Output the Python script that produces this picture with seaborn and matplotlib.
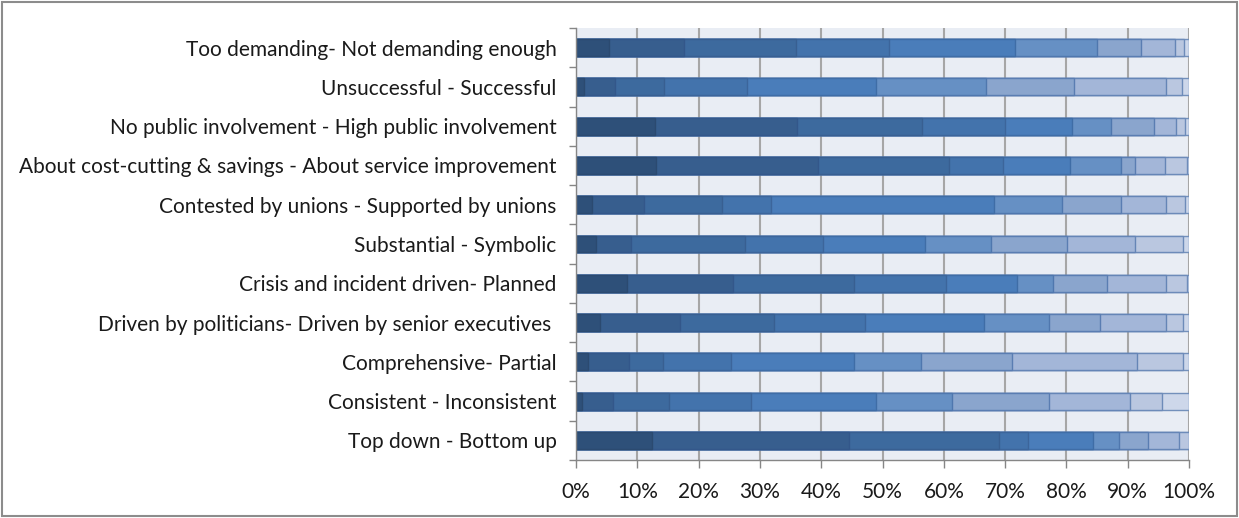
import numpy as np
import pandas as pd
import matplotlib
matplotlib.use('Agg')
import matplotlib.pyplot as plt
import seaborn as sns

# categorias (de cima para baixo)
categorias = [
    'Too demanding- Not demanding enough',
    'Unsuccessful - Successful',
    'No public involvement - High public involvement',
    'About cost-cutting & savings - About service improvement',
    'Contested by unions - Supported by unions',
    'Substantial - Symbolic',
    'Crisis and incident driven- Planned',
    'Driven by politicians- Driven by senior executives ',
    'Comprehensive- Partial',
    'Consistent - Inconsistent',
    'Top down - Bottom up',
]

# percentagem em cada ponto da escala (1 = extremo esquerdo ... 10 = extremo direito)
s1 = [5.4, 1.3, 12.8, 13.0, 2.6, 3.3, 8.3, 3.9, 2.0, 1.0, 12.3]
s2 = [12.2, 5.1, 23.3, 26.4, 8.4, 5.7, 17.3, 13.0, 6.7, 5.0, 32.2]
s3 = [18.3, 8.0, 20.4, 21.5, 12.8, 18.5, 19.8, 15.4, 5.5, 9.1, 24.5]
s4 = [15.2, 13.5, 13.5, 8.7, 8.0, 12.8, 14.9, 14.8, 11.0, 13.5, 4.8]
s5 = [20.5, 21.1, 10.9, 10.9, 36.3, 16.6, 11.7, 19.5, 20.2, 20.3, 10.5]
s6 = [13.3, 17.8, 6.3, 8.4, 11.2, 10.8, 5.8, 10.6, 10.8, 12.4, 4.2]
s7 = [7.3, 14.4, 7.0, 2.2, 9.6, 12.4, 8.8, 8.3, 14.9, 15.8, 4.8]
s8 = [5.5, 15.1, 3.7, 4.9, 7.4, 11.1, 9.7, 10.8, 20.4, 13.2, 5.1]
s9 = [1.5, 2.6, 1.4, 3.7, 3.0, 7.8, 3.4, 2.7, 7.5, 5.3, 1.6]
s10 = [0.8, 1.1, 0.7, 0.3, 0.7, 1.0, 0.3, 1.0, 1.0, 4.4, 0.0]

cores = ['#2E5079', '#375E8E', '#3D6A9E', '#4373AC', '#4A7DBA',
         '#6690C4', '#8AA5CD', '#A3B6D8', '#BAC7E0', '#CDD7EA']
bordas = ['#2B4A70', '#33578A', '#385F91', '#3C659B', '#3F6DA6',
          '#4F77AE', '#5A7DB2', '#6585B6', '#6D8BB9', '#7390BB']

niveis = [s1, s2, s3, s4, s5, s6, s7, s8, s9, s10]

# monta tabela e normaliza para 100%
df = pd.DataFrame(np.array(niveis).T, index=categorias,
                  columns=[f'n{i+1}' for i in range(10)])
df = df.div(df.sum(axis=1), axis=0)
acumulado = df.cumsum(axis=1)

sns.set_theme(style='white')
plt.rcParams['font.family'] = ['Lato', 'DejaVu Sans']

fig, ax = plt.subplots(figsize=(12.39, 5.18), dpi=100)
fig.subplots_adjust(left=0.465, right=0.9597, bottom=0.112, top=0.946)

ax.set_facecolor('#E9EDF4')
ax.set_axisbelow(True)
ax.xaxis.grid(True, color='#A6A6A6', linewidth=1.5)

#desenha do maior acumulado para o menor, assim cada camada cobre a anterior
for k in range(9, -1, -1):
    sns.barplot(x=acumulado.iloc[:, k].values, y=categorias, orient='h',
                color=cores[k], saturation=1, width=0.43,
                edgecolor=bordas[k], linewidth=1, ax=ax)

ax.set_xlim(0, 1)
ax.set_ylim(10.5, -0.5)
ax.set_xticks(np.arange(0, 1.01, 0.1))
ax.set_xticklabels([f'{int(round(v*100))}%' for v in np.arange(0, 1.01, 0.1)])
ax.set_xlabel('')
ax.set_ylabel('')

ax.set_yticks(np.arange(-0.5, 11, 1), minor=True)
ax.tick_params(axis='y', which='major', length=0, pad=14, labelsize=15, labelcolor='#1a1a1a')
ax.tick_params(axis='y', which='minor', length=5, color='#868686', width=1, left=True)
ax.tick_params(axis='x', length=6, color='#868686', width=1, bottom=True, labelsize=15,
               labelcolor='#1a1a1a', pad=10)

for lado in ['top', 'right']:
    ax.spines[lado].set_visible(False)
for lado in ['left', 'bottom']:
    ax.spines[lado].set_color('#868686')
    ax.spines[lado].set_linewidth(1)

fig.add_artist(plt.Rectangle((0.002, 0.003), 0.996, 0.993, transform=fig.transFigure,
                             fill=False, edgecolor='#8C8C8C', linewidth=1.5))

plt.savefig('out.png', dpi=100)
